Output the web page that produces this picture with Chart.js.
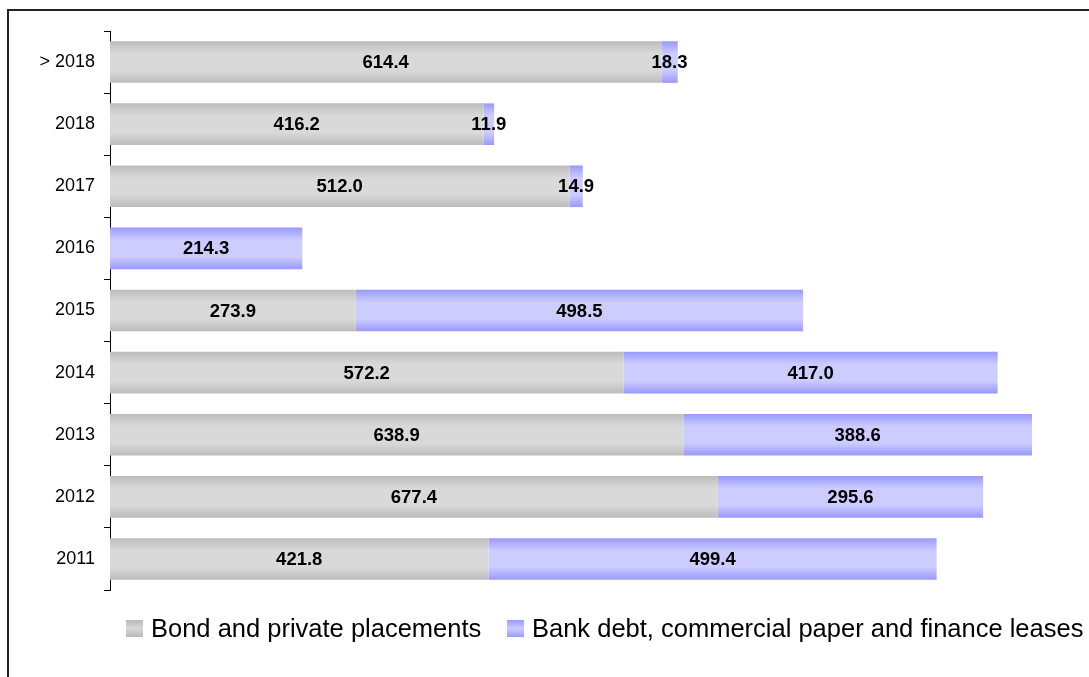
<!DOCTYPE html>
<html>
<head>
<meta charset="utf-8">
<script src="https://cdn.jsdelivr.net/npm/chart.js@4.4.1/dist/chart.umd.min.js"></script>
<style>
html,body{margin:0;padding:0;background:#fff;}
#wrap{width:1089px;height:677px;position:relative;}
</style>
</head>
<body>
<div id="wrap"><canvas id="c" width="1089" height="677"></canvas></div>
<script>
const categories = ['> 2018', '2018', '2017', '2016', '2015', '2014', '2013', '2012', '2011'];
const bondValues = [614.4, 416.2, 512.0, 0, 273.9, 572.2, 638.9, 677.4, 421.8];
const bankValues = [18.3, 11.9, 14.9, 214.3, 498.5, 417.0, 388.6, 295.6, 499.4];
const seriesNames = ['Bond and private placements', 'Bank debt, commercial paper and finance leases'];

const FONT = '"Liberation Sans", Arial, sans-serif';
const BAR_FRAC = 0.67;

function makeGradient(chart, index, edge, mid) {
  const area = chart.chartArea;
  if (!area) return mid;
  const yScale = chart.scales.y;
  const band = (area.bottom - area.top) / categories.length;
  const cy = yScale.getPixelForValue(index);
  const h = band * BAR_FRAC;
  const g = chart.ctx.createLinearGradient(0, cy - h / 2, 0, cy + h / 2);
  g.addColorStop(0, edge);
  g.addColorStop(0.3, mid);
  g.addColorStop(0.7, mid);
  g.addColorStop(1, edge);
  return g;
}

const framePlugin = {
  id: 'frame',
  beforeDraw(chart) {
    const ctx = chart.ctx;
    ctx.save();
    ctx.fillStyle = '#fff';
    ctx.fillRect(0, 0, chart.width, chart.height);
    ctx.strokeStyle = '#222';
    ctx.lineWidth = 2;
    ctx.strokeRect(8, 10, 2000, 2000);
    ctx.restore();
  }
};

const labelPlugin = {
  id: 'segLabels',
  afterDatasetsDraw(chart) {
    const ctx = chart.ctx;
    ctx.save();
    ctx.font = 'bold 18.5px ' + FONT;
    ctx.fillStyle = '#000';
    ctx.textAlign = 'center';
    ctx.textBaseline = 'middle';
    chart.data.datasets.forEach((ds, di) => {
      const meta = chart.getDatasetMeta(di);
      meta.data.forEach((bar, i) => {
        const v = ds.data[i];
        if (!v) return;
        const cx = (bar.x + bar.base) / 2;
        ctx.fillText(v.toFixed(1), cx, bar.y + 1);
      });
    });
    ctx.restore();
  }
};

const legendPlugin = {
  id: 'customLegend',
  afterDraw(chart) {
    const ctx = chart.ctx;
    ctx.save();
    const items = [
      {x: 126, edge: '#b8b8b8', mid: '#d8d8d8', text: seriesNames[0]},
      {x: 507, edge: '#9999ff', mid: '#ccccff', text: seriesNames[1]}
    ];
    const y = 620, s = 17;
    items.forEach(it => {
      const g = ctx.createLinearGradient(0, y, 0, y + s);
      g.addColorStop(0, it.edge); g.addColorStop(0.5, it.mid); g.addColorStop(1, it.edge);
      ctx.fillStyle = g;
      ctx.fillRect(it.x, y, s, s);
      ctx.fillStyle = '#000';
      ctx.font = '25.5px ' + FONT;
      ctx.textBaseline = 'middle';
      ctx.textAlign = 'left';
      ctx.fillText(it.text, it.x + s + 8, y + s / 2 + 1);
    });
    ctx.restore();
  }
};

new Chart(document.getElementById('c'), {
  type: 'bar',
  data: {
    labels: categories,
    datasets: [
      {
        label: seriesNames[0],
        data: bondValues,
        backgroundColor: (c) => makeGradient(c.chart, c.dataIndex, '#bcbcbc', '#d9d9d9'),
        borderWidth: 0,
        barPercentage: 0.67,
        categoryPercentage: 1.0
      },
      {
        label: seriesNames[1],
        data: bankValues,
        backgroundColor: (c) => makeGradient(c.chart, c.dataIndex, '#9999ff', '#ccccff'),
        borderWidth: 0,
        barPercentage: 0.67,
        categoryPercentage: 1.0
      }
    ]
  },
  options: {
    indexAxis: 'y',
    responsive: false,
    animation: false,
    layout: {padding: {top: 31, bottom: 87, left: 0, right: 0}},
    plugins: {legend: {display: false}, tooltip: {enabled: false}},
    scales: {
      x: {
        stacked: true,
        min: 0,
        max: 1091,
        display: false
      },
      y: {
        stacked: true,
        grid: {display: true, drawOnChartArea: false, drawTicks: true, tickLength: 6, offset: true, color: '#000'},
        border: {display: true, color: '#000', width: 1},
        ticks: {color: '#000', font: {family: FONT, size: 18}, padding: 9},
        afterFit(scale) { scale.width = 110; }
      }
    }
  },
  plugins: [framePlugin, labelPlugin, legendPlugin]
});
</script>
</body>
</html>
